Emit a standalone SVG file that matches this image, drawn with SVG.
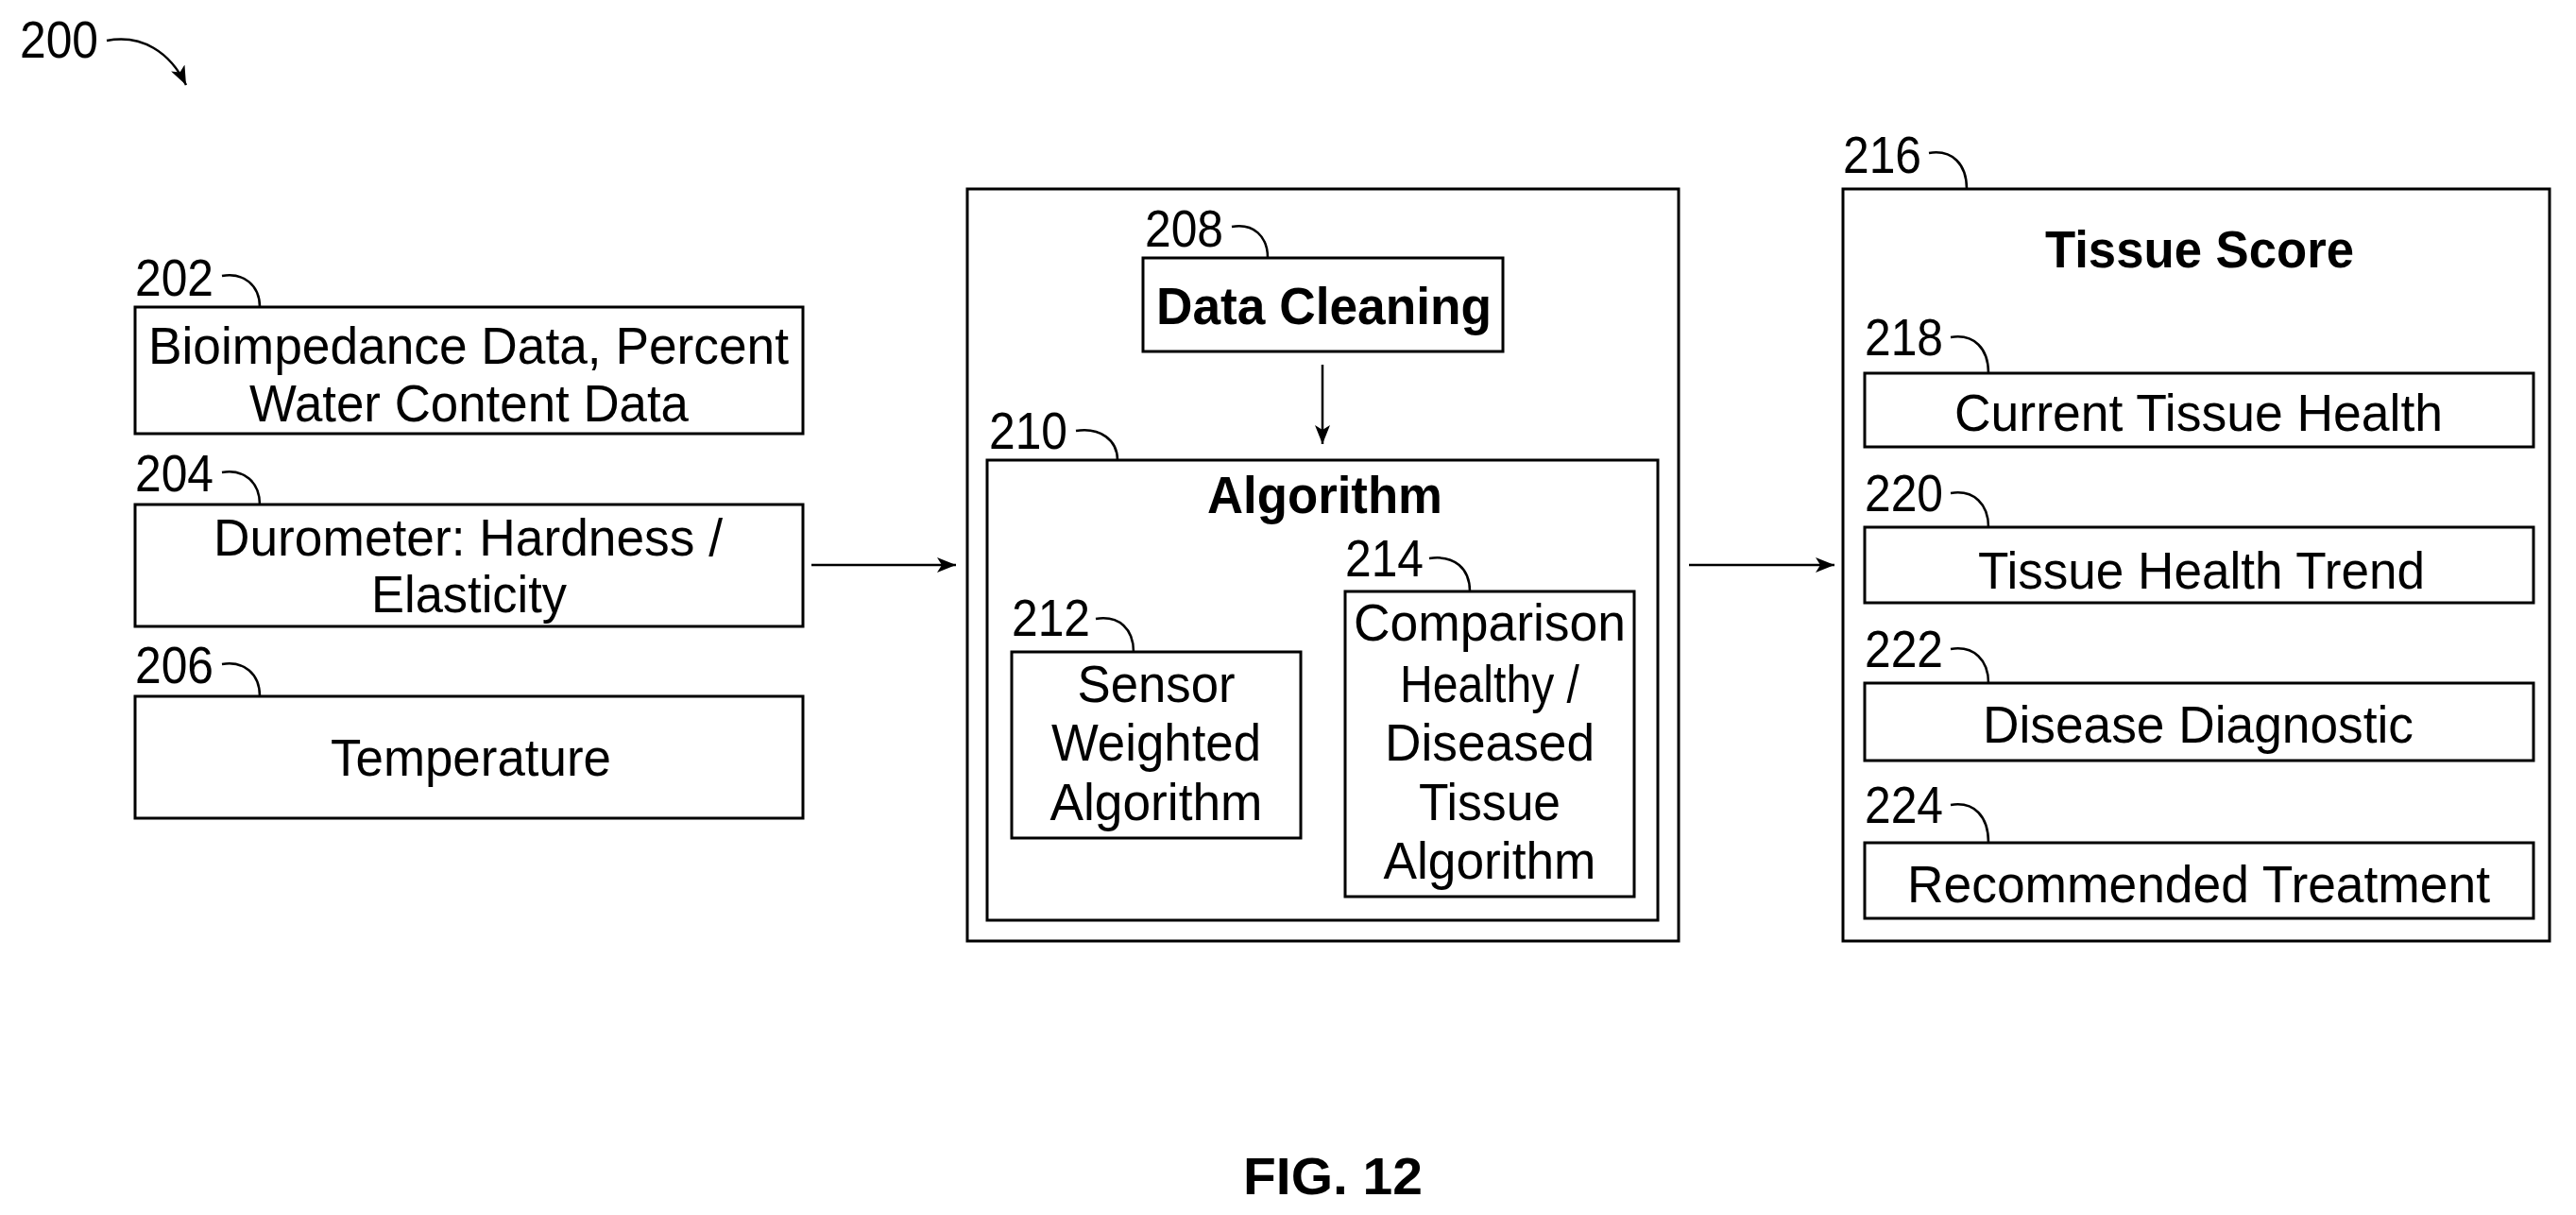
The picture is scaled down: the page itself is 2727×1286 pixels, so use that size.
<svg xmlns="http://www.w3.org/2000/svg" width="2727" height="1286" viewBox="0 0 2727 1286">
<style>
text{font-family:"Liberation Sans",Arial,sans-serif;font-size:56px;fill:#000}
.b{font-weight:bold}
.c{text-anchor:middle}
rect{fill:#fff;stroke:#000;stroke-width:3}
.ld{fill:none;stroke:#000;stroke-width:2.5}
.ar{fill:none;stroke:#000;stroke-width:2.5}
</style>
<defs>
<marker id="ah" viewBox="0 0 20 16" refX="20" refY="8" markerWidth="20" markerHeight="16" markerUnits="userSpaceOnUse" orient="auto">
<path d="M0 0 L20 8 L0 16 L5 8 Z" fill="#000"/>
</marker>
</defs>
<rect width="2727" height="1286" style="stroke:none"/>
<g id="fig-ref">
<text x="21" y="61" textLength="83" lengthAdjust="spacingAndGlyphs">200</text>
<path class="ld" d="M113 43 C150 36 180 55 197 90" marker-end="url(#ah)"/>
</g>
<g id="n202">
<rect x="143" y="325" width="707" height="134"/>
<text x="143" y="313" textLength="83" lengthAdjust="spacingAndGlyphs">202</text>
<path class="ld" d="M235 292 C258 288 275 302 275 325"/>
<text x="157" y="385" textLength="678" lengthAdjust="spacingAndGlyphs">Bioimpedance Data, Percent</text>
<text x="264" y="446" textLength="465" lengthAdjust="spacingAndGlyphs">Water Content Data</text>
</g>
<g id="n204">
<rect x="143" y="534" width="707" height="129"/>
<text x="143" y="520" textLength="83" lengthAdjust="spacingAndGlyphs">204</text>
<path class="ld" d="M235 500 C258 496 275 510 275 534"/>
<text x="226" y="588" textLength="539" lengthAdjust="spacingAndGlyphs">Durometer: Hardness /</text>
<text x="393" y="648" textLength="207" lengthAdjust="spacingAndGlyphs">Elasticity</text>
</g>
<g id="n206">
<rect x="143" y="737" width="707" height="129"/>
<text x="143" y="723" textLength="83" lengthAdjust="spacingAndGlyphs">206</text>
<path class="ld" d="M235 703 C258 699 275 713 275 737"/>
<text x="350" y="821" textLength="297" lengthAdjust="spacingAndGlyphs">Temperature</text>
</g>
<g id="n-proc">
<rect x="1024" y="200" width="753" height="796"/>
</g>
<g id="n208">
<rect x="1210" y="273" width="381" height="99"/>
<text x="1212" y="261" textLength="83" lengthAdjust="spacingAndGlyphs">208</text>
<path class="ld" d="M1304 240 C1327 236 1342 250 1342 273"/>
<text class="b" x="1224" y="343" textLength="355" lengthAdjust="spacingAndGlyphs">Data Cleaning</text>
</g>
<g id="n210">
<rect x="1045" y="487" width="710" height="487"/>
<text x="1047" y="475" textLength="83" lengthAdjust="spacingAndGlyphs">210</text>
<path class="ld" d="M1139 456 C1165 452 1183 466 1183 487"/>
<text class="b" x="1278" y="543" textLength="249" lengthAdjust="spacingAndGlyphs">Algorithm</text>
</g>
<g id="n212">
<rect x="1071" y="690" width="306" height="197"/>
<text x="1071" y="673" textLength="83" lengthAdjust="spacingAndGlyphs">212</text>
<path class="ld" d="M1160 655 C1185 651 1200 666 1200 690"/>
<text class="c" x="1224" y="743" textLength="167" lengthAdjust="spacingAndGlyphs">Sensor</text>
<text class="c" x="1224" y="805" textLength="222" lengthAdjust="spacingAndGlyphs">Weighted</text>
<text class="c" x="1224" y="868" textLength="225" lengthAdjust="spacingAndGlyphs">Algorithm</text>
</g>
<g id="n214">
<rect x="1424" y="626" width="306" height="323"/>
<text x="1424" y="610" textLength="83" lengthAdjust="spacingAndGlyphs">214</text>
<path class="ld" d="M1513 591 C1540 587 1556 602 1556 626"/>
<text class="c" x="1577" y="678" textLength="288" lengthAdjust="spacingAndGlyphs">Comparison</text>
<text class="c" x="1577" y="743" textLength="190" lengthAdjust="spacingAndGlyphs">Healthy /</text>
<text class="c" x="1577" y="805" textLength="222" lengthAdjust="spacingAndGlyphs">Diseased</text>
<text class="c" x="1577" y="868" textLength="150" lengthAdjust="spacingAndGlyphs">Tissue</text>
<text class="c" x="1577" y="930" textLength="225" lengthAdjust="spacingAndGlyphs">Algorithm</text>
</g>
<g id="n216">
<rect x="1951" y="200" width="748" height="796"/>
<text x="1951" y="183" textLength="83" lengthAdjust="spacingAndGlyphs">216</text>
<path class="ld" d="M2042 162 C2067 158 2082 174 2082 200"/>
<text class="b" x="2165" y="283" textLength="327" lengthAdjust="spacingAndGlyphs">Tissue Score</text>
</g>
<g id="n218">
<rect x="1974" y="395" width="708" height="78"/>
<text x="1974" y="376" textLength="83" lengthAdjust="spacingAndGlyphs">218</text>
<path class="ld" d="M2065 357 C2090 353 2105 369 2105 395"/>
<text x="2069" y="456" textLength="517" lengthAdjust="spacingAndGlyphs">Current Tissue Health</text>
</g>
<g id="n220">
<rect x="1974" y="558" width="708" height="80"/>
<text x="1974" y="541" textLength="83" lengthAdjust="spacingAndGlyphs">220</text>
<path class="ld" d="M2065 522 C2090 518 2105 534 2105 558"/>
<text x="2094" y="623" textLength="473" lengthAdjust="spacingAndGlyphs">Tissue Health Trend</text>
</g>
<g id="n222">
<rect x="1974" y="723" width="708" height="82"/>
<text x="1974" y="706" textLength="83" lengthAdjust="spacingAndGlyphs">222</text>
<path class="ld" d="M2065 687 C2090 683 2105 699 2105 723"/>
<text x="2099" y="786" textLength="456" lengthAdjust="spacingAndGlyphs">Disease Diagnostic</text>
</g>
<g id="n224">
<rect x="1974" y="892" width="708" height="80"/>
<text x="1974" y="871" textLength="83" lengthAdjust="spacingAndGlyphs">224</text>
<path class="ld" d="M2065 852 C2090 848 2105 864 2105 892"/>
<text x="2019" y="955" textLength="617" lengthAdjust="spacingAndGlyphs">Recommended Treatment</text>
</g>
<g id="connectors">
<line class="ar" x1="859" y1="598" x2="1012" y2="598" marker-end="url(#ah)"/>
<line class="ar" x1="1400" y1="386" x2="1400" y2="470" marker-end="url(#ah)"/>
<line class="ar" x1="1788" y1="598" x2="1942" y2="598" marker-end="url(#ah)"/>
</g>
<text class="b c" x="1411" y="1264" textLength="190" lengthAdjust="spacingAndGlyphs">FIG. 12</text>
</svg>
